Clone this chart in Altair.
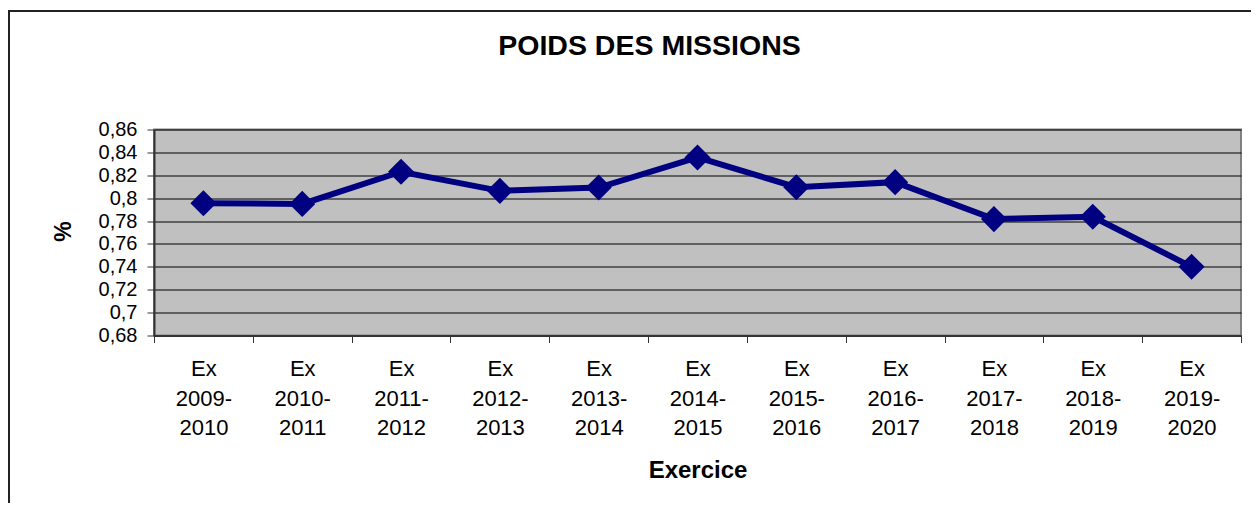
import altair as alt
import pandas as pd

categories = ["Ex 2009-2010", "Ex 2010-2011", "Ex 2011-2012", "Ex 2012-2013",
              "Ex 2013-2014", "Ex 2014-2015", "Ex 2015-2016", "Ex 2016-2017",
              "Ex 2017-2018", "Ex 2018-2019", "Ex 2019-2020"]
values = [0.7956, 0.7950, 0.8231, 0.8064, 0.8093, 0.8356,
          0.8096, 0.8140, 0.7817, 0.7838, 0.7400]
y_ticks = [0.68, 0.70, 0.72, 0.74, 0.76, 0.78, 0.80, 0.82, 0.84, 0.86]

title_text = "POIDS DES MISSIONS"
x_title = "Exercice"
y_title = "%"

FONT = "Liberation Sans"
NAVY = "#000080"

df = pd.DataFrame({"exercice": categories, "poids": values})

W, H = 1087, 206

x_enc = alt.X(
    "exercice:N",
    sort=categories,
    bandPosition=0.5,
    scale=alt.Scale(type="band", paddingInner=0, paddingOuter=0),
    axis=alt.Axis(
        title=x_title,
        labelAngle=0,
        labelExpr="datum.label ? ['Ex', substring(datum.label, 3, 8), substring(datum.label, 8)] : ''",
        labelFont=FONT, labelFontSize=22, labelColor="black",
        labelLineHeight=29.5, labelPadding=16, labelBaseline="top",
        tickBand="extent", tickSize=7, tickColor="#333333", tickWidth=1,
        domainColor="#333333", domainWidth=2,
        grid=False,
        titleFont=FONT, titleFontSize=24, titleFontWeight="bold", titleColor="black",
        titleBaseline="middle", titleY=134.5, titleX=W / 2,
    ),
)

y_enc = alt.Y(
    "poids:Q",
    scale=alt.Scale(domain=[0.68, 0.86], nice=False, zero=False),
    axis=alt.Axis(
        title=y_title,
        values=y_ticks,
        labelExpr="replace(format(datum.value, '.2~f'), '.', ',')",
        labelFont=FONT, labelFontSize=20, labelColor="black", labelPadding=10,
        tickSize=7, tickColor="#333333", tickWidth=1,
        domainColor="#333333", domainWidth=2,
        grid=True, gridColor="black", gridWidth=1, gridOpacity=1,
        titleFont=FONT, titleFontSize=23, titleFontWeight="bold", titleColor="black",
        titleAngle=270, titleBaseline="middle", titleX=-91, titleY=101.5,
    ),
)

line = alt.Chart(df).mark_line(
    color=NAVY, strokeWidth=6,
    point=alt.OverlayMarkDef(shape="diamond", size=680, filled=True, color=NAVY, opacity=1),
).encode(x=x_enc, y=y_enc)

frame = alt.Chart(alt.Data(values=[{}])).mark_rect(
    fill="white", fillOpacity=0, stroke="#222222", strokeWidth=2
).encode(
    x=alt.value(-145), x2=alt.value(1300),
    y=alt.value(-118.5), y2=alt.value(600),
)

title = alt.Chart(alt.Data(values=[{}])).mark_text(
    text=title_text, font=FONT, fontSize=28.5, fontWeight="bold", color="black",
    align="center", baseline="middle",
).encode(x=alt.value(495.5), y=alt.value(-84))

chart = alt.layer(frame, title, line).properties(
    width=W, height=H,
    padding={"left": 146, "top": 121.5, "right": 10, "bottom": 167.5},
    autosize=alt.AutoSizeParams(type="none"),
    background="white",
).configure_view(
    fill="#C0C0C0", stroke="#808080", strokeWidth=2
)

chart.save("out.html", embed_options={"renderer": "svg", "actions": False})
